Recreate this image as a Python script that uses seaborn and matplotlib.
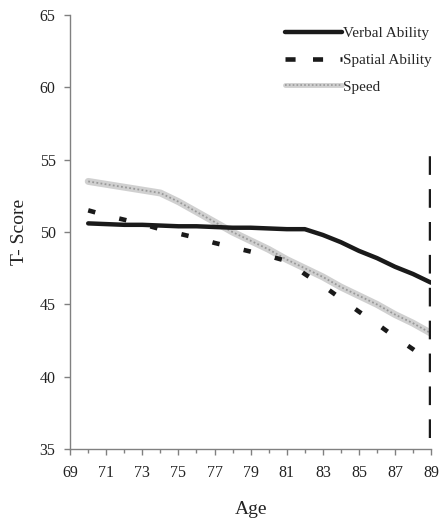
import numpy as np
import pandas as pd
import matplotlib
matplotlib.use('Agg')
import matplotlib.pyplot as plt
import seaborn as sns
from matplotlib.legend_handler import HandlerTuple

# datos
age = [70, 71, 72, 73, 74, 75, 76, 77, 78, 79, 80, 81, 82, 83, 84, 85, 86, 87, 88, 89]
verbal = [50.6, 50.55, 50.5, 50.5, 50.45, 50.4, 50.4, 50.35, 50.3, 50.3,
          50.25, 50.2, 50.2, 49.8, 49.3, 48.7, 48.2, 47.6, 47.1, 46.5]
spatial = [51.5, 51.15, 50.85, 50.55, 50.2, 49.9, 49.6, 49.25, 48.95, 48.65,
           48.35, 48.0, 47.1, 46.3, 45.4, 44.5, 43.65, 42.75, 41.9, 41.0]
speed = [53.5, 53.3, 53.1, 52.9, 52.7, 52.1, 51.4, 50.7, 50.0, 49.4,
         48.8, 48.1, 47.5, 46.9, 46.2, 45.6, 45.0, 44.3, 43.7, 43.0]
cutoff_age = [89, 89]
cutoff_score = [35.8, 56.0]

x_ticks = list(range(69, 90, 2))
y_ticks = [35, 40, 45, 50, 55, 60, 65]

df = pd.DataFrame({'Age': age, 'Verbal': verbal, 'Spatial': spatial, 'Speed': speed})

sns.set_style('white')
plt.rcParams['font.family'] = ['Liberation Serif', 'DejaVu Serif']

fig = plt.figure(figsize=(4.44, 5.18), dpi=100)
ax = fig.add_axes([0.158, 0.133, 0.813, 0.838])

# Speed: linea gris gruesa con textura punteada
sns.lineplot(data=df, x='Age', y='Speed', ax=ax, color='#d0d0d0', linewidth=5)
sns.lineplot(data=df, x='Age', y='Speed', ax=ax, color='#999999', linewidth=1.3,
             linestyle=(0, (1, 1.3)))
sns.lineplot(data=df, x='Age', y='Spatial', ax=ax, color='#1a1a1a', linewidth=3.3,
             linestyle=(0, (1.6, 5.4)))
sns.lineplot(data=df, x='Age', y='Verbal', ax=ax, color='#1a1a1a', linewidth=3.2)
ax.plot(cutoff_age, cutoff_score, color='#1a1a1a', linewidth=3.2, linestyle=(0, (4.2, 3.2)))

h_speed = (plt.Line2D([], [], color='#d0d0d0', linewidth=3.5),
           plt.Line2D([], [], color='#999999', linewidth=1.2, linestyle=(0, (1, 1.3))))
h_spatial = plt.Line2D([], [], color='#1a1a1a', linewidth=3.3, linestyle=(0, (2.2, 3.8)))
h_verbal = plt.Line2D([], [], color='#1a1a1a', linewidth=3.2)
ax.legend([h_verbal, h_spatial, h_speed], ['Verbal Ability', 'Spatial Ability', 'Speed'],
          handler_map={tuple: HandlerTuple(ndivide=1, pad=0)},
          loc='upper right', bbox_to_anchor=(1.04, 1.005), frameon=False,
          fontsize=11, handlelength=3.7, handletextpad=0.1, labelspacing=0.85)

ax.set_xlim(69, 89)
ax.set_ylim(35, 65)
ax.set_xticks(x_ticks)
ax.set_xticks(range(69, 90), minor=True)
ax.set_yticks(y_ticks)
ax.tick_params(axis='both', which='both', direction='out', color='#808080',
               labelsize=11.5, labelcolor='#222222')
ax.tick_params(axis='both', which='major', length=4.5, width=1, bottom=True, left=True)
ax.tick_params(axis='x', which='minor', length=3, width=1, bottom=True)
ax.tick_params(axis='x', pad=7)
ax.tick_params(axis='y', pad=6)

for s in ['top', 'right']:
    ax.spines[s].set_visible(False)
for s in ['left', 'bottom']:
    ax.spines[s].set_color('#808080')
    ax.spines[s].set_linewidth(1)

ax.set_xlabel('Age', fontsize=14, color='#222222', labelpad=14)
ax.set_ylabel('T- Score', fontsize=14, color='#222222', labelpad=8)

plt.savefig('out.png', dpi=100)
